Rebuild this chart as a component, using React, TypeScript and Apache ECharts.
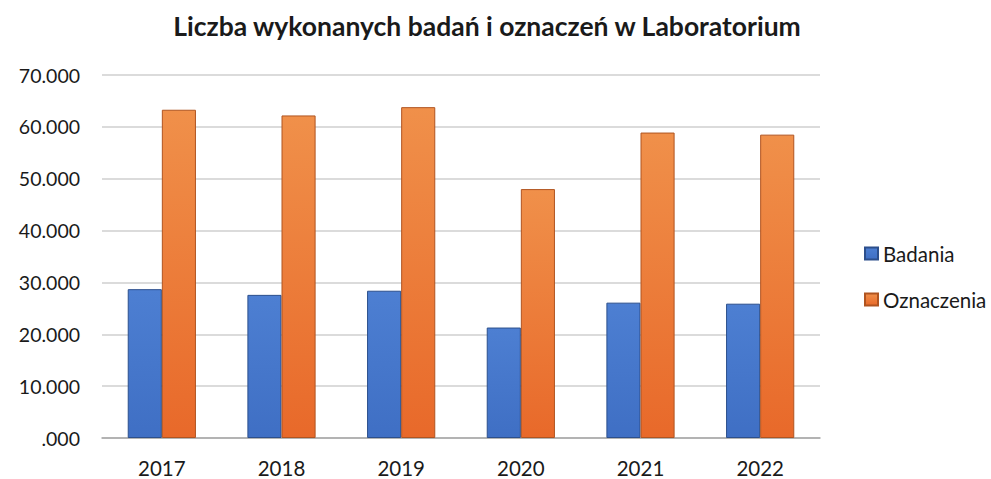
import React, { useEffect, useRef } from "react";
import * as echarts from "echarts";

const years = ["2017", "2018", "2019", "2020", "2021", "2022"];
const badania = [28700, 27600, 28400, 21300, 26100, 25900];
const oznaczenia = [63300, 62200, 63800, 48000, 58900, 58500];
const seriesNames = ["Badania", "Oznaczenia"];
const titleText = "Liczba wykonanych badań i oznaczeń w Laboratorium";

export default function App() {
  const ref = useRef<HTMLDivElement>(null);
  useEffect(() => {
    if (!ref.current) return;
    const chart = echarts.init(ref.current, undefined, { renderer: "svg" });
    const font = "Lato, 'Noto Sans', sans-serif";
    chart.setOption({
      animation: false,
      backgroundColor: "#ffffff",
      title: {
        text: titleText,
        left: 482,
        textAlign: "center",
        top: 7,
        textStyle: { fontFamily: font, fontSize: 26.5, fontWeight: "bold", color: "#1a1a1a" },
      },
      legend: {
        orient: "vertical",
        left: 859,
        top: 238,
        itemWidth: 13,
        itemHeight: 12,
        itemGap: 25,
        icon: "rect",
        textStyle: { fontFamily: font, fontSize: 20.5, color: "#1a1a1a", padding: [0, 0, 0, 0] },
        data: seriesNames,
      },
      grid: { left: 102, right: 171, top: 75, bottom: 41 },
      xAxis: {
        type: "category",
        data: years,
        axisTick: { show: false },
        axisLine: { lineStyle: { color: "#a6a6a6", width: 1.5 } },
        axisLabel: { fontFamily: font, fontSize: 20.5, color: "#1a1a1a", margin: 19 },
      },
      yAxis: {
        type: "value",
        min: 0,
        max: 70000,
        interval: 10000,
        axisLine: { show: false },
        axisTick: { show: false },
        splitLine: { lineStyle: { color: "#cfcfcf", width: 1.5 } },
        axisLabel: {
          fontFamily: font,
          fontSize: 19.5,
          color: "#1a1a1a",
          margin: 22,
          formatter: (v: number) => (v === 0 ? ".000" : String(v / 1000) + ".000"),
        },
      },
      series: [
        {
          name: seriesNames[0],
          type: "bar",
          data: badania,
          barWidth: "28.5%",
          barGap: "0%",
          itemStyle: {
            color: new echarts.graphic.LinearGradient(0, 0, 0, 1, [
              { offset: 0, color: "#4d7fd2" },
              { offset: 1, color: "#3f6fc4" },
            ]),
            borderColor: "#2c4f8c",
            borderWidth: 1,
          },
        },
        {
          name: seriesNames[1],
          type: "bar",
          data: oznaczenia,
          barWidth: "28.5%",
          barGap: "0%",
          itemStyle: {
            color: new echarts.graphic.LinearGradient(0, 0, 0, 1, [
              { offset: 0, color: "#f0904a" },
              { offset: 1, color: "#e8692a" },
            ]),
            borderColor: "#b05420",
            borderWidth: 1,
          },
        },
      ],
    });
    return () => chart.dispose();
  }, []);
  return (
    <div
      ref={ref}
      style={{ position: "fixed", left: 0, top: 0, width: 991, height: 479 }}
    />
  );
}
